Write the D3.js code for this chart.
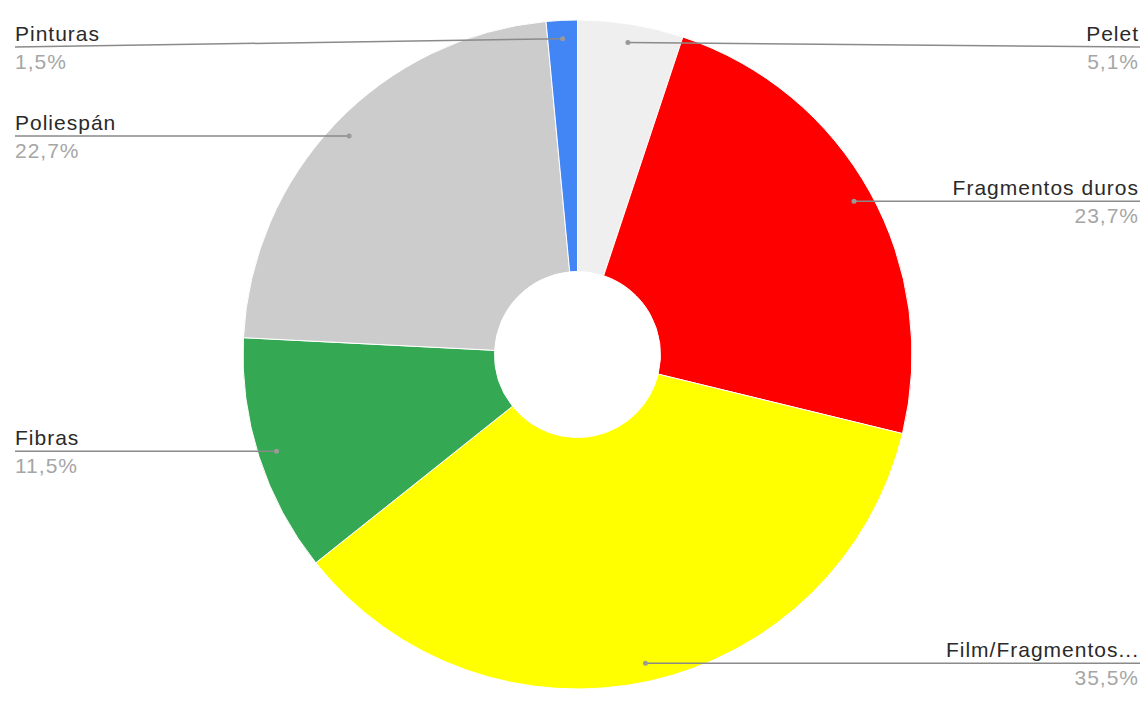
<!DOCTYPE html>
<html>
<head>
<meta charset="utf-8">
<script src="https://cdn.jsdelivr.net/npm/d3@7"></script>
<style>
  html, body { margin: 0; padding: 0; background: #fff; }
  svg { display: block; }
</style>
</head>
<body>
<svg id="chart" width="1143" height="704"></svg>
<script>
const categories = ["Pelet", "Fragmentos duros", "Film/Fragmentos...", "Fibras", "Poliespán", "Pinturas"];
const values = [5.1, 23.7, 35.5, 11.5, 22.7, 1.5];
const pctLabels = ["5,1%", "23,7%", "35,5%", "11,5%", "22,7%", "1,5%"];
const colors = ["#efefef", "#ff0000", "#ffff00", "#34a853", "#cccccc", "#4285f4"];

const W = 1143, H = 704;
const cx = 577.5, cy = 354.5, R = 334.5, r0 = 83;
const svg = d3.select("#chart");

const data = categories.map((c, i) => ({ name: c, value: values[i], pct: pctLabels[i], color: colors[i] }));
const pie = d3.pie().value(d => d.value).sort(null);
const arcs = pie(data);
const arc = d3.arc().innerRadius(r0).outerRadius(R);
const g = svg.append("g").attr("transform", `translate(${cx},${cy})`);

g.selectAll("path.slice").data(arcs).enter().append("path")
  .attr("class", "slice")
  .attr("d", arc)
  .attr("fill", d => d.data.color)
  .attr("stroke", "#ffffff")
  .attr("stroke-width", 1);

const font = "'Liberation Sans', Arial, sans-serif";
const dotR = R * 0.945;
const leftX = 15, rightX = 1140;
const minLineY = 47;

arcs.forEach(a => {
  const mid = (a.startAngle + a.endAngle) / 2;
  const px = cx + dotR * Math.sin(mid);
  const py = cy - dotR * Math.cos(mid);
  const isRight = Math.sin(mid) > 0;
  const lineY = py < minLineY ? minLineY : py;
  const endX = isRight ? rightX : leftX;

  svg.append("line")
    .attr("x1", px).attr("y1", py)
    .attr("x2", endX).attr("y2", lineY)
    .attr("stroke", "#8a8a8a").attr("stroke-width", 1.5);
  svg.append("circle")
    .attr("cx", px).attr("cy", py).attr("r", 2.5)
    .attr("fill", "#9a9a9a");

  const tx = isRight ? rightX - 1 : leftX;
  const anchor = isRight ? "end" : "start";
  svg.append("text")
    .attr("x", tx).attr("y", lineY - 6)
    .attr("text-anchor", anchor)
    .attr("font-family", font).attr("font-size", 21)
    .attr("letter-spacing", 1)
    .attr("fill", "#2a2a2a")
    .text(a.data.name);
  svg.append("text")
    .attr("x", tx).attr("y", lineY + 22)
    .attr("text-anchor", anchor)
    .attr("font-family", font).attr("font-size", 21)
    .attr("letter-spacing", 1)
    .attr("fill", "#a6a6a6")
    .text(a.data.pct);
});
</script>
</body>
</html>
